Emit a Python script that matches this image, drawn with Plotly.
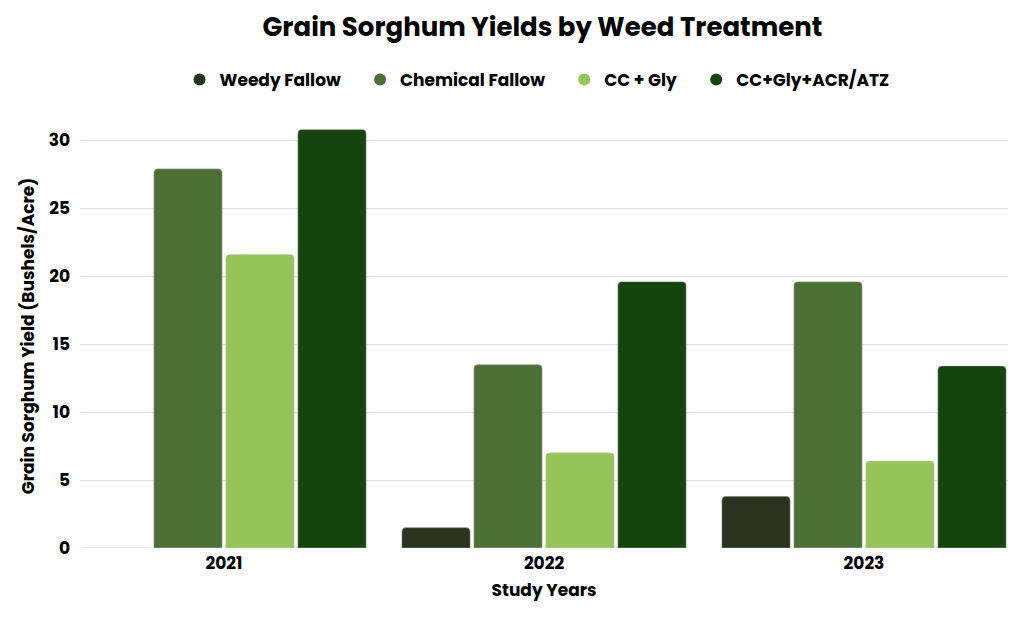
import plotly.graph_objects as go

years = ["2021", "2022", "2023"]
series_names = ["Weedy Fallow", "Chemical Fallow", "CC + Gly", "CC+Gly+ACR/ATZ"]
weedy_fallow = [0, 1.5, 3.8]
chemical_fallow = [27.9, 13.5, 19.6]
cc_gly = [21.6, 7.0, 6.4]
cc_gly_acr_atz = [30.8, 19.6, 13.4]
y_ticks = [0, 5, 10, 15, 20, 25, 30]

values = [weedy_fallow, chemical_fallow, cc_gly, cc_gly_acr_atz]
colors = ["#2b3320", "#4c6f36", "#95c55a", "#15440e"]

FONT = "Poppins, 'Open Sans', Lato, sans-serif"
PAD = "\u00a0" * 4

fig = go.Figure()
for name, vals, col in zip(series_names, values, colors):
    fig.add_trace(go.Bar(
        x=years, y=vals, name=name, showlegend=False,
        marker=dict(color=col, cornerradius=4, line=dict(color="rgba(200,200,200,0.6)", width=0.8)),
    ))
for i, (name, col) in enumerate(zip(series_names, colors)):
    fig.add_trace(go.Scatter(
        x=[None], y=[None], name=name + (PAD if i < 3 else ""), mode="markers",
        marker=dict(symbol="circle", size=17, color=col),
    ))

fig.update_layout(
    width=1016, height=611,
    paper_bgcolor="white", plot_bgcolor="white",
    margin=dict(l=72, r=16, t=116, b=71),
    barmode="group", bargap=0.1, bargroupgap=0.05,
    font=dict(family=FONT, color="#000000"),
    title=dict(
        text="<b>Grain Sorghum Yields by Weed Treatment</b>",
        x=0.526, xanchor="center", y=0.969, yanchor="middle",
        font=dict(size=26, family=FONT, color="#000000"),
    ),
    legend=dict(
        orientation="h", x=0.4925, xanchor="center", y=1.104, yanchor="middle",
        font=dict(size=17, family=FONT, color="#000000", weight="bold"),
        itemsizing="constant", traceorder="normal", itemwidth=30,
    ),
    xaxis=dict(
        type="category", range=[-0.45, 2.45], automargin=False,
        showgrid=False, showline=False, ticks="",
        ticklabelstandoff=3,
        tickfont=dict(size=17, family=FONT, color="#000000", weight="bold"),
        title=dict(text="<b>Study Years</b>", font=dict(size=17, family=FONT, color="#000000"), standoff=10),
    ),
    yaxis=dict(
        range=[0, 31.2], tickvals=y_ticks, automargin=False,
        showgrid=True, gridcolor="#e3e3e3", gridwidth=1,
        zeroline=False, showline=False, ticks="",
        ticklabelstandoff=9,
        tickfont=dict(size=17, family=FONT, color="#000000", weight="bold"),
        title=dict(text="<b>Grain Sorghum Yield (Bushels/Acre)</b>", font=dict(size=17, family=FONT, color="#000000"), standoff=9),
    ),
)

fig.write_html("out.html")
